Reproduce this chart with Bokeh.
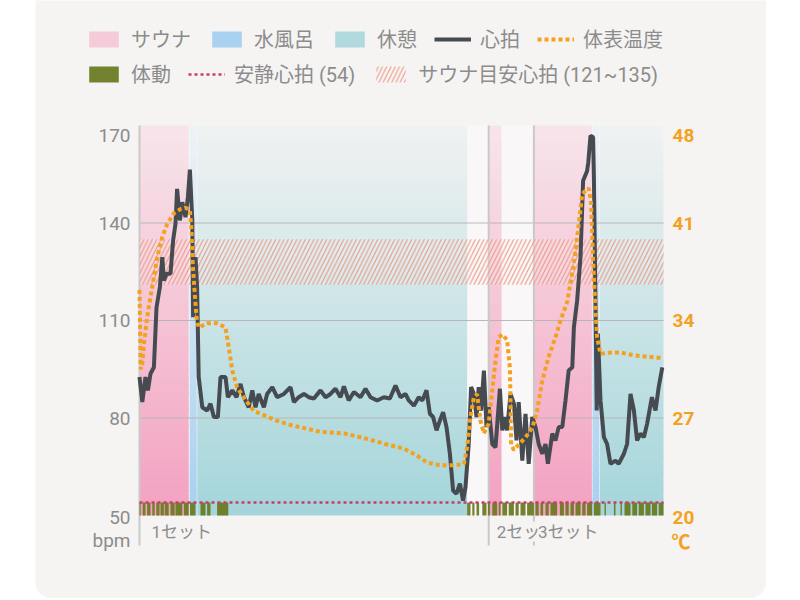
import numpy as np
from bokeh.plotting import figure
from bokeh.models import Range1d, Legend, LegendItem
from bokeh.core.properties import value
from bokeh.embed import file_html
from bokeh.resources import INLINE

# ---------------- data ----------------
T_END = 131  # minutes shown

HR_T = [0, 0.7, 1.5, 2.1, 2.75, 3.6, 4.25, 5.1, 5.7, 6.1,
        6.75, 7.75, 8.4, 9.0, 9.4, 10.1, 10.7, 11.5, 12.1, 12.6,
        13.2, 13.4, 14.0, 14.4, 14.8, 15.7, 16.9, 17.75, 18.6, 19.6,
        20.25, 21.5, 22.1, 23.2, 24.25, 25.25, 26.1, 27.3, 28.2, 29.0,
        29.8, 31.1, 31.9, 33.2, 34.4, 36.1, 37.75, 38.6, 39.8, 41.1,
        42.3, 43.6, 45.25, 46.5, 47.75, 49.0, 50.25, 51.1, 52.3, 53.6,
        55.25, 56.5, 57.75, 59.4, 61.1, 62.6, 64.0, 65.25, 66.5, 67.3,
        68.6, 69.8, 70.7, 71.75, 72.6, 73.4, 74.25, 75.1, 75.9, 76.75,
        77.6, 78.4, 79.25, 80.1, 80.9, 81.5, 82.3, 82.9, 83.6, 84.25,
        84.8, 85.4, 86.1, 86.75, 87.3, 88.2, 89.0, 90.1, 90.7, 91.25,
        91.9, 92.75, 93.6, 94.25, 94.8, 95.7, 96.5, 97.3, 98.2, 99.0,
        99.8, 100.7, 101.5, 102.1, 103.2, 104.0, 104.8, 105.7, 106.5, 107.3,
        108.2, 108.6, 109.4, 110.25, 110.9, 111.9, 112.2, 112.75, 113.4, 113.6,
        114.0, 114.3, 114.6, 115.25, 116.1, 116.9, 117.75, 119.0, 119.8, 121.1,
        121.9, 122.75, 123.6, 124.4, 125.25, 126.1, 126.9, 128.1, 129.0, 129.8,
        130.7]
HR_BPM = [92.6, 84.9, 92.6, 88.5, 93.6, 95.6, 114, 120.3, 129.5, 122.3,
          124.4, 124.4, 134.6, 139.8, 150.5, 140.8, 146.4, 141.8, 148, 156.4,
          140.8, 111, 129.5, 120.3, 92.6, 83.3, 82.3, 84.4, 80.3, 80.3,
          92.6, 92.6, 86.4, 88.5, 86.4, 90.5, 86.4, 83.3, 88.5, 83.3,
          87.4, 83.3, 87.4, 89.5, 86.4, 87.4, 89.5, 84.9, 86.4, 87.4,
          86.4, 86, 88.5, 86.4, 87.4, 89, 86.4, 89.7, 85.4, 88,
          86.4, 89, 86.4, 85.4, 86.4, 86, 90, 86.4, 87.4, 85.4,
          83.8, 86.4, 85.4, 88.5, 81.3, 80.3, 76.2, 79.2, 81.8, 77.2,
          69, 57.7, 56.7, 59.8, 54.6, 58.7, 72, 89.5, 87.4, 80.3,
          89.5, 82.3, 94.6, 77.2, 83.3, 72, 71, 89, 76.2, 80.3,
          76.2, 87.4, 84.4, 73.1, 84.9, 66.9, 81.3, 65.9, 80.3, 77.2,
          72, 69, 72, 65.9, 75.2, 73.1, 77.2, 77.2, 85.4, 94.6,
          95.6, 107.9, 116, 129.5, 153, 156, 158.7, 166.9, 166.4, 154,
          115, 82.3, 106, 85.4, 74.1, 72, 65.9, 66.9, 65.9, 69,
          72, 87.4, 82.3, 73.1, 75.2, 74.1, 78.2, 86.4, 82.3, 89.5,
          95.6]

TEMP_T = [0, 0.3, 0.7, 1.1, 1.9, 2.75, 3.6, 4.4, 5.7, 6.9,
          8.6, 10.25, 11.5, 12.6, 13.0, 13.3, 13.75, 14.25, 14.8, 16.9,
          19.4, 21.5, 22.3, 23.2, 24.4, 26.5, 28.6, 31.1, 34.4, 37.75,
          42.3, 45.25, 51.1, 56.9, 61.9, 66.1, 69.4, 71.9, 75.25, 78.6,
          81.1, 81.9, 82.75, 83.6, 84.4, 85.25, 86.1, 87.3, 88.2, 89.0,
          89.8, 90.7, 91.9, 92.6, 92.75, 92.9, 93.6, 94.8, 96.5, 98.2,
          99.4, 100.7, 102.3, 104.0, 105.25, 106.9, 108.6, 109.8, 110.7, 112.3,
          112.9, 113.4, 114.0, 114.4, 115.25, 117.75, 120.25, 123.6, 126.9, 130.7]
TEMP_C = [36.2, 30.5, 30.9, 32.3, 34.2, 35.7, 37.1, 38.5, 40.0, 40.9,
          41.7, 42.0, 42.1, 41.9, 40.5, 38.1, 36.2, 34.2, 33.5, 33.8,
          33.8, 33.5, 32.1, 30.4, 29.2, 28.3, 27.5, 27.2, 26.8, 26.5,
          26.2, 26.0, 25.9, 25.5, 25.1, 24.8, 24.3, 23.8, 23.6, 23.6,
          23.7, 24.9, 27.1, 28.5, 28.7, 26.8, 25.9, 26.6, 29.0, 31.1,
          32.8, 33.0, 32.6, 30.6, 28.3, 25.1, 24.7, 25.1, 25.6, 26.3,
          27.5, 29.7, 31.4, 32.8, 34.0, 35.3, 38.1, 40.9, 43.1, 43.5,
          42.4, 38.3, 34.7, 32.8, 31.6, 31.7, 31.7, 31.5, 31.4, 31.3]

REGION_KIND = ["sauna", "water", "rest", "sauna", "sauna", "water", "rest"]
REGION_START = [0, 12.55, 14.45, 87.3, 98.6, 113.25, 115.1]
REGION_END = [12.3, 14.3, 81.9, 90.5, 113.1, 114.95, 131]

MOVE_START = [0.0, 0.8, 1.9, 3.2, 4.2, 5.25, 6.3, 7.75, 9.0, 11.1, 12.6, 15.25, 16.9, 19.4,
              81.9, 83.2, 84.25, 85.7, 87.1, 88.2, 89.8, 90.7, 92.3, 94.0,
              95.25, 96.9, 99.0, 100.25, 101.5, 102.75, 105.1, 106.5, 107.75, 109.0,
              110.7, 111.9, 113.6, 116.25, 118.6, 120.25, 121.25, 123.2, 124.8, 126.5,
              128.1, 129.8]
MOVE_END = [0.3, 1.5, 2.75, 3.8, 5.0, 6.1, 7.3, 8.8, 10.7, 12.3, 14.0, 16.5, 17.75, 22.2,
            82.75, 83.75, 84.9, 86.75, 87.6, 89.4, 90.25, 91.9, 93.6, 94.8,
            96.5, 98.6, 99.8, 100.9, 102.3, 104.4, 106.1, 107.3, 108.6, 110.25,
            111.5, 113.2, 115.25, 116.6, 119.0, 120.6, 122.75, 124.4, 126.1, 127.75,
            129.4, 131.0]

SET_LABELS = ["1セット", "2セット", "3セット"]
SET_START = [0, 87.3, 98.6]

REST_HR = 54
TARGET_LOW, TARGET_HIGH = 121, 135
BPM_TICKS = [50, 80, 110, 140, 170]
TEMP_TICKS = [20, 27, 34, 41, 48]
GRID_BPM = [80, 110, 140]
LEGEND_ROW1 = ["サウナ", "水風呂", "休憩", "心拍", "体表温度"]
LEGEND_ROW2 = ["体動", "安静心拍 (54)", "サウナ目安心拍 (121~135)"]

# ---------------- style / layout ----------------
W, H = 731, 598                      # card size in px
PL, PR, PT, PB = 104, 628, 125, 515  # plot area inside the card, px
CARD = "#f5f4f3"
GRAY_TXT = "#8c8c8c"
ORANGE = "#f3a11f"
HR_COLOR = "#464b51"
REST_COLOR = "#c2406b"
MOVE_COLOR = "#6b7b24"
HATCH_COLOR = "#e8907c"
SETLINE = "#c9c9c9"
NUM_FONT = value("Roboto")
JP_FONT = value("Noto Sans CJK JP")
MIX_FONT = "Roboto, 'Noto Sans CJK JP'"
GRAD = {"sauna": ("#f7e5ea", "#f3a1c0"),
        "water": ("#eef2f6", "#a7d0f0"),
        "rest": ("#f0f2f2", "#a4d5da")}
LEG_FRAC = {"sauna": 0.62, "water": 0.04, "rest": 0.15}  # which gradient shade the legend shows
MOVE_BAR_H = 4  # bpm units above the axis floor
TICK_OUT_PX = 30

y0, y1 = BPM_TICKS[0], BPM_TICKS[-1]
t0, t1 = TEMP_TICKS[0], TEMP_TICKS[-1]
kx = (PR - PL) / T_END
ky = (PB - PT) / (y1 - y0)
kt = (PB - PT) / (t1 - t0)

x_range = Range1d(-PL / kx, T_END + (W - PR) / kx)
y_range = Range1d(y0 - (H - PB) / ky, y1 + PT / ky)

p = figure(width=W, height=H, x_range=x_range, y_range=y_range,
           output_backend="svg", toolbar_location=None,
           min_border=0, background_fill_color=CARD, border_fill_color=CARD,
           outline_line_color=None)
p.margin = (0, 0, 0, 35)
p.extra_y_ranges = {"temp": Range1d(t0 - (H - PB) / kt, t1 + PT / kt)}
p.axis.visible = False
p.grid.visible = False


def _rgb(h):
    h = h.lstrip("#")
    return np.array([int(h[i:i + 2], 16) for i in (0, 2, 4)], dtype=float)


def _mix(c_bot, c_top, f):
    c = _rgb(c_bot) * (1 - f) + _rgb(c_top) * f
    return "#%02x%02x%02x" % tuple(int(round(v)) for v in c)


# plot area background
p.quad(left=[0], right=[T_END], bottom=[y0], top=[y1], fill_color="#f9f7f7", line_color=None)

# gradient backgrounds of the phases (one renderer per phase kind)
N = 48
ys = np.linspace(y0, y1, N + 1)
phase_r = {}
for kind in GRAD:
    top_c, bot_c = GRAD[kind]
    gl, gr, gb, gt, gc = [], [], [], [], []
    for k, s, e in zip(REGION_KIND, REGION_START, REGION_END):
        if k != kind:
            continue
        for i in range(N):
            f = (i + 0.5) / N
            gl.append(s); gr.append(e)
            gb.append(ys[i]); gt.append(min(ys[i + 1] + 0.4, y1))
            gc.append(_mix(bot_c, top_c, f))
    phase_r[kind] = p.quad(left=gl, right=gr, bottom=gb, top=gt, fill_color=gc, line_color=None)

# grid lines & set lines
p.segment(x0=[0] * len(GRID_BPM), x1=[T_END] * len(GRID_BPM), y0=GRID_BPM, y1=GRID_BPM,
          line_color="#b3b3b3", line_width=1.2, line_alpha=0.9)
p.segment(x0=SET_START, x1=SET_START, y0=[y0 - TICK_OUT_PX / ky] * len(SET_START),
          y1=[y1] * len(SET_START), line_color=SETLINE, line_width=2)

# target band
r_target = p.quad(left=[0], right=[T_END], bottom=[TARGET_LOW], top=[TARGET_HIGH],
                  fill_color="white", fill_alpha=0.22,
                  hatch_pattern="/", hatch_color=HATCH_COLOR, hatch_alpha=0.85,
                  hatch_scale=8.5, hatch_weight=1.2, line_color=None)

# movement bars
r_move = p.quad(left=MOVE_START, right=MOVE_END, bottom=y0, top=y0 + MOVE_BAR_H,
                fill_color=MOVE_COLOR, fill_alpha=0.95, line_color=None)

# resting HR
r_rest_hr = p.segment(x0=[0], x1=[T_END], y0=[REST_HR], y1=[REST_HR],
                      line_color=REST_COLOR, line_width=2.5, line_dash="3 3")

# heart rate & skin temperature
r_hr = p.line(HR_T, HR_BPM, line_color=HR_COLOR, line_width=4)
r_temp = p.line(TEMP_T, TEMP_C, y_range_name="temp", line_color=ORANGE, line_width=4,
                line_dash="4 3")

# y tick labels
n = len(BPM_TICKS)
p.text(x=[0] * n, y=BPM_TICKS, text=[str(v) for v in BPM_TICKS],
       x_offset=-9, y_offset=[2] + [0] * (n - 2) + [10],
       text_align="right", text_baseline="middle", text_font=NUM_FONT,
       text_font_size="19px", text_color=GRAY_TXT)
n = len(TEMP_TICKS)
p.text(x=[T_END] * n, y=TEMP_TICKS, text=[str(v) for v in TEMP_TICKS], y_range_name="temp",
       x_offset=9, y_offset=[2] + [0] * (n - 2) + [10],
       text_align="left", text_baseline="middle", text_font=NUM_FONT,
       text_font_size="19px", text_font_style="bold", text_color=ORANGE)
p.text(x=[0], y=[y0], text=["bpm"], x_offset=-9, y_offset=25, text_align="right",
       text_baseline="middle", text_font=NUM_FONT, text_font_size="19px", text_color=GRAY_TXT)
p.text(x=[T_END], y=[y0], text=["℃"], x_offset=8, y_offset=25, text_align="left",
       text_baseline="middle", text_font=JP_FONT, text_font_size="19px",
       text_font_style="bold", text_color=ORANGE)

# set labels (a later label hides the tail of an earlier one, as in the app)
p.text(x=SET_START, y=[y0] * len(SET_START), text=SET_LABELS,
       x_offset=[12, 8, 4], y_offset=16, text_align="left", text_baseline="middle",
       text_font=value(MIX_FONT), text_font_size="17px", text_color=GRAY_TXT,
       background_fill_color=CARD, padding=0)


def make_legend(labels, entries, loc):
    items = []
    for l, (r, idx) in zip(labels, entries):
        if idx is None:
            items.append(LegendItem(label=l, renderers=[r]))
        else:
            items.append(LegendItem(label=l, renderers=[r], index=idx))
    lg = Legend(items=items,
                location=loc, orientation="horizontal", padding=0, margin=0,
                spacing=17, label_standoff=9, glyph_width=37, glyph_height=20,
                label_height=20, label_text_font=MIX_FONT, label_text_font_size="20px",
                label_text_color=GRAY_TXT, background_fill_alpha=0, border_line_alpha=0)
    p.add_layout(lg)


make_legend(LEGEND_ROW1,
            [(phase_r["sauna"], int(LEG_FRAC["sauna"] * N)),
             (phase_r["water"], int(LEG_FRAC["water"] * N)),
             (phase_r["rest"], int(LEG_FRAC["rest"] * N)),
             (r_hr, None), (r_temp, None)],
            (50, H - 53))
make_legend(LEGEND_ROW2, [(r_move, None), (r_rest_hr, None), (r_target, None)], (50, H - 88))

p.styles = {"border-radius": "0 0 16px 16px", "overflow": "hidden"}

open("out.html", "w").write(file_html(p, INLINE))
